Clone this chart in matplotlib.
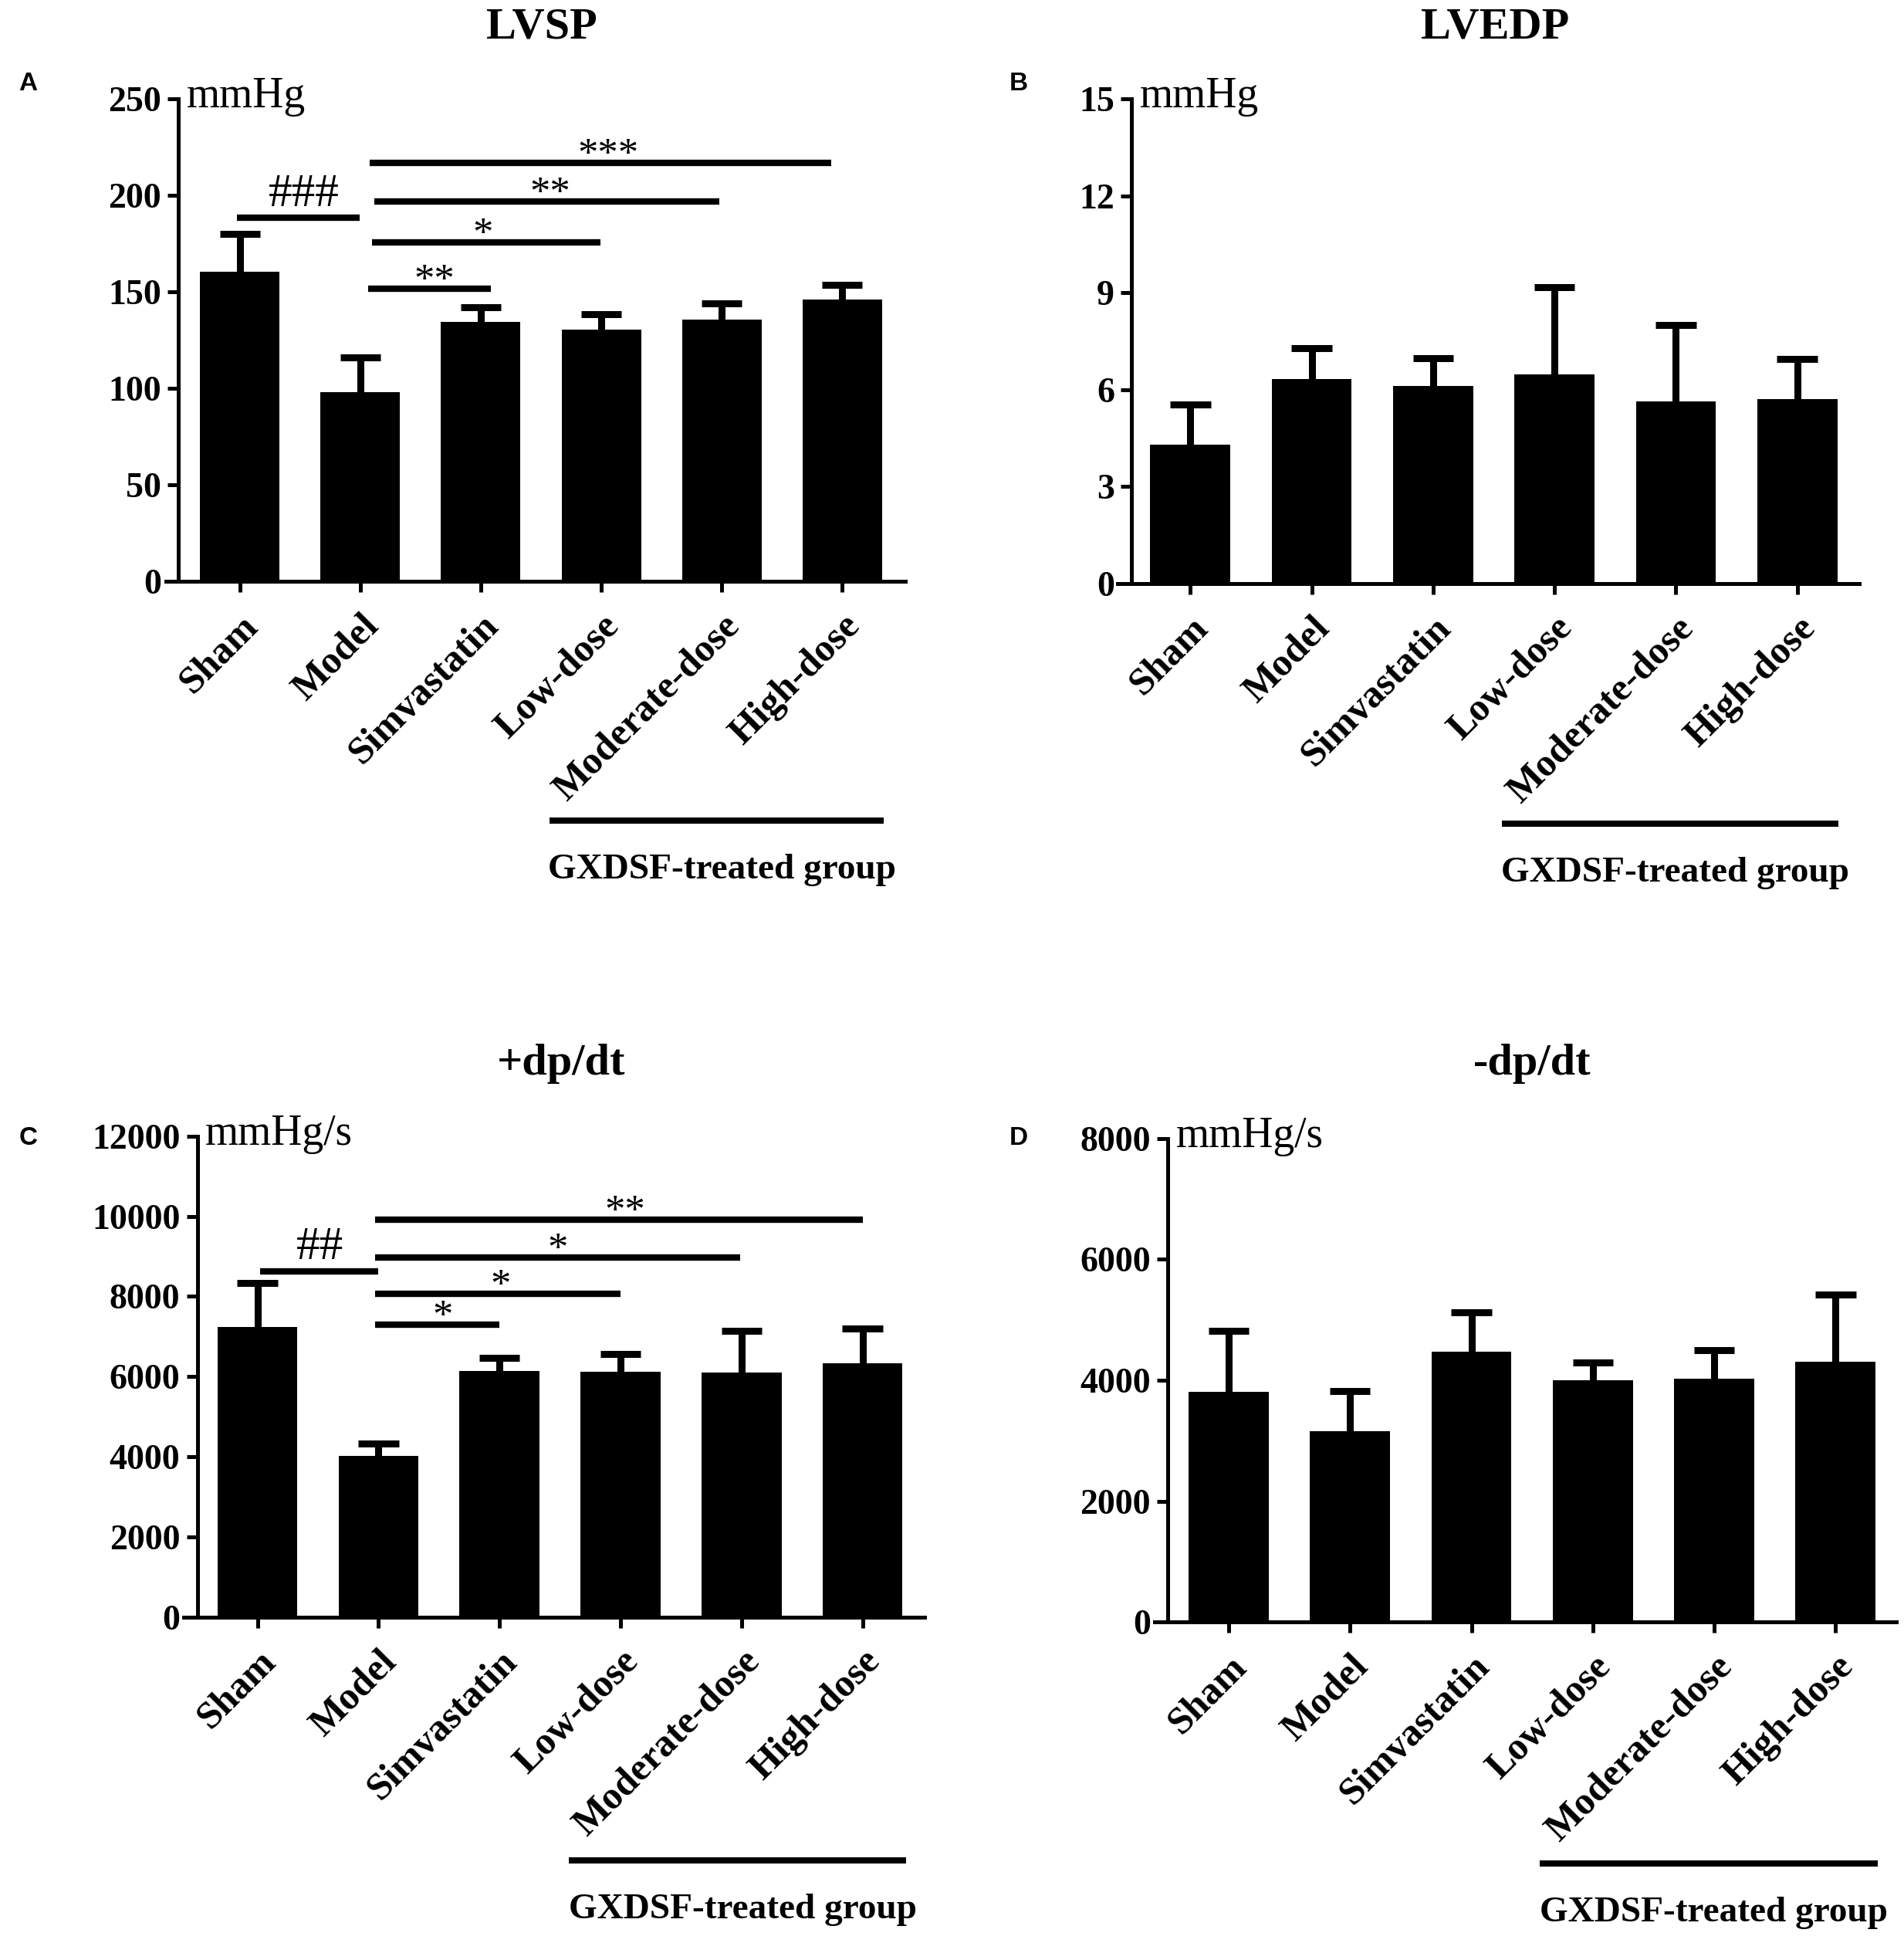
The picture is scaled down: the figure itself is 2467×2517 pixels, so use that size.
import matplotlib
matplotlib.use("Agg")
import matplotlib.pyplot as plt
import matplotlib.transforms as mtransforms
import numpy as np

plt.rcParams['font.family'] = ['Liberation Serif', 'DejaVu Serif']

groups = ['Sham', 'Model', 'Simvastatin', 'Low-dose', 'Moderate-dose', 'High-dose']

lvsp_mean = [160.4, 98, 134.4, 130.5, 135.6, 146.2]
lvsp_err = [19.8, 18.3, 7.6, 8.0, 8.7, 7.7]

lvedp_mean = [4.30, 6.33, 6.12, 6.48, 5.64, 5.70]
lvedp_err = [1.24, 0.96, 0.86, 2.69, 2.36, 1.26]

pdpdt_mean = [7234, 4026, 6139, 6124, 6108, 6340]
pdpdt_err = [1103, 308, 324, 432, 1034, 863]

ndpdt_mean = [3805, 3159, 4472, 4000, 4031, 4308]
ndpdt_err = [1016, 667, 656, 297, 461, 1107]

# significance marks: (x start, x end, y, label, label x)
lvsp_sig = [(-0.026, 0.993, 188.4, '###', 0.53),
            (1.064, 2.083, 151.8, '**', 1.615),
            (1.10, 2.996, 175.7, '*', 2.014),
            (1.117, 3.98, 196.9, '**', 2.574),
            (1.08, 4.91, 216.9, '***', 3.06)]
pdpdt_sig = [(0.023, 0.997, 8632, '##', 0.513),
             (0.97, 2.0, 7297, '*', 1.53),
             (0.97, 3.0, 8067, '*', 2.01),
             (0.97, 3.99, 8967, '*', 2.48),
             (0.97, 5.0, 9917, '**', 3.04)]

LW = 3.6      # spines and ticks
BAR_LW = 6.5  # error bars and significance lines


def draw_panel(fig, rect, xlim, spine_x, mean, err, ymax, ystep, unit, title, letter,
               title_y, letter_xy, group_line, sig=None):
    """
    Prism-like bar chart with one-sided error bars.
    """
    ax = fig.add_axes(rect)
    # spine position first: moving it resets the y ticks
    ax.spines['top'].set_visible(False)
    ax.spines['right'].set_visible(False)
    ax.spines['left'].set_position(('data', spine_x))
    ax.spines['left'].set_linewidth(LW)
    ax.spines['bottom'].set_linewidth(LW)

    x = np.arange(len(groups))
    top = np.array(mean) + np.array(err)
    ax.vlines(x, mean, top, color='black', lw=BAR_LW, zorder=1)
    ax.hlines(top, x - 0.167, x + 0.167, color='black', lw=BAR_LW, zorder=1)
    ax.bar(x, mean, width=0.66, color='black', zorder=2)

    ax.set_xlim(*xlim)
    ax.set_ylim(0, ymax)
    yt = np.arange(0, ymax + ystep / 2, ystep)
    ax.set_yticks(yt, [str(int(v)) for v in yt], fontsize=33, fontweight='bold')
    ax.set_xticks(x, groups, rotation=45, ha='right', va='top', rotation_mode='anchor',
                  fontsize=36, fontweight='bold')
    ax.tick_params(axis='both', width=LW, length=10, direction='out')
    ax.tick_params(axis='y', pad=6)
    ax.tick_params(axis='x', pad=15)

    ax.text(0.011 + (spine_x - xlim[0]) / (xlim[1] - xlim[0]), 1.005, unit,
            transform=ax.transAxes, fontsize=40, ha='left', va='center')

    cx = (rect[0] + (spine_x - xlim[0]) / (xlim[1] - xlim[0]) * rect[2] + rect[0] + rect[2]) / 2
    fig.text(cx, title_y, title, fontsize=42, fontweight='bold', ha='center', va='center')
    fig.text(letter_xy[0], letter_xy[1], letter, fontsize=24, fontweight='bold',
             family='Liberation Sans', ha='left', va='center')

    trans = mtransforms.blended_transform_factory(ax.transData, fig.transFigure)
    gx0, gx1, gy, ty = group_line
    ax.plot([gx0, gx1], [gy, gy], color='black', lw=5.8, transform=trans, clip_on=False,
            solid_capstyle='butt')
    ax.text((gx0 + gx1) / 2 + 0.04, ty, 'GXDSF-treated group', transform=trans, fontsize=34,
            fontweight='bold', ha='center', va='center')

    if sig:
        for x0, x1, y, lab, tx in sig:
            ax.plot([x0, x1], [y, y], color='black', lw=6, clip_on=False,
                    solid_capstyle='butt')
            if lab.startswith('#'):
                ax.annotate(lab, xy=(tx, y), xytext=(0, 11), textcoords='offset points',
                            ha='center', va='baseline', fontsize=44)
            else:
                ax.annotate(lab, xy=(tx, y), xytext=(0, -3), textcoords='offset points',
                            ha='center', va='baseline', fontsize=38)
    return ax


fig = plt.figure(figsize=(24.67, 25.17), dpi=100)

draw_panel(fig, [0.0872, 0.7007, 0.3882, 0.2483], (-0.613, 5.523), -0.511,
           lvsp_mean, lvsp_err, 250, 50, 'mmHg', 'LVSP', 'A', 0.9857, (0.01, 0.957),
           (2.573, 5.346, 0.5777, 0.5522), lvsp_sig)
draw_panel(fig, [0.5869, 0.6997, 0.9764 - 0.5869, 0.9490 - 0.6997], (-0.6, 5.509), -0.484,
           lvedp_mean, lvedp_err, 15, 3, 'mmHg', 'LVEDP', 'B', 0.9857, (0.530, 0.957),
           (2.565, 5.34, 0.5761, 0.5505))
draw_panel(fig, [0.0966, 0.1678, 0.4855 - 0.0966, 0.4153 - 0.1678], (-0.608, 5.511), -0.497,
           pdpdt_mean, pdpdt_err, 12000, 2000, 'mmHg/s', '+dp/dt', 'C', 0.4524, (0.01, 0.4141),
           (2.575, 5.36, 0.0424, 0.0169), pdpdt_sig)
draw_panel(fig, [0.6064, 0.1652, 0.9959 - 0.6064, 0.4141 - 0.1652], (-0.61, 5.499), -0.5,
           ndpdt_mean, ndpdt_err, 8000, 2000, 'mmHg/s', '-dp/dt', 'D', 0.4524, (0.530, 0.4141),
           (2.565, 5.35, 0.0408, 0.0153))

fig.savefig('out.png', dpi=100, facecolor='white')
